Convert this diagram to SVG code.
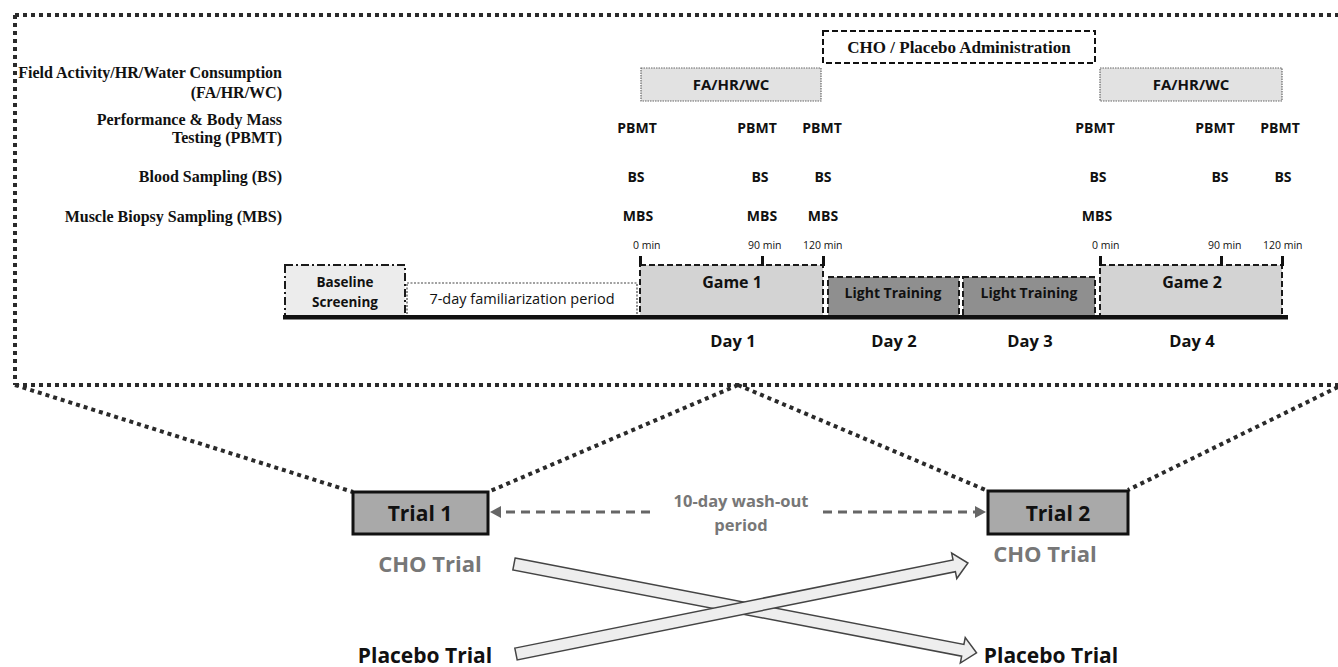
<svg xmlns="http://www.w3.org/2000/svg" width="1338" height="667" viewBox="0 0 1338 667">
<style>
.lbl{font-family:"Liberation Serif","Times New Roman",serif;font-weight:bold;font-size:16px;fill:#111;text-anchor:end}
.adm{font-family:"Liberation Serif","Times New Roman",serif;font-weight:bold;font-size:17px;fill:#111;text-anchor:middle}
.sb{font-family:"Open Sans",sans-serif;font-weight:bold;fill:#111;text-anchor:middle}
.sr{font-family:"Open Sans",sans-serif;fill:#111;text-anchor:middle}
.m{font-size:14px}
.tick{font-family:"Open Sans",sans-serif;font-size:10.5px;fill:#111}
.frame{fill:none;stroke:#2a2a2a;stroke-width:4;stroke-dasharray:4 4}
.game{fill:#d3d3d3;stroke:#1a1a1a;stroke-width:2;stroke-dasharray:6 3}
.lt{fill:#8f8f8f;stroke:#1a1a1a;stroke-width:2;stroke-dasharray:6 3}
.fa{fill:#e2e2e2;stroke:#666;stroke-width:1.2;stroke-dasharray:1.5 1}
.trial{fill:#a9a9a9;stroke:#111;stroke-width:3}
.wash{stroke:#666;stroke-width:3;stroke-dasharray:9 6;fill:none}
.blk{fill:#eeeeee;stroke:#444;stroke-width:1.5}
.gray{fill:#777}
</style>

<g id="frame">
<path class="frame" d="M15,15 H1338 M15,15 V385 M15,385 H1338"/>
<path class="frame" d="M15,385 L353,492 M738,385 L488,492 M738,385 L988,491 M1338,387 L1128,490"/>
</g>

<g id="row-labels">
<text class="lbl" x="282" y="78">Field Activity/HR/Water Consumption</text>
<text class="lbl" x="282" y="98">(FA/HR/WC)</text>
<text class="lbl" x="282" y="125">Performance &amp; Body Mass</text>
<text class="lbl" x="282" y="143">Testing (PBMT)</text>
<text class="lbl" x="282" y="182">Blood Sampling (BS)</text>
<text class="lbl" x="282" y="222">Muscle Biopsy Sampling (MBS)</text>
</g>

<g id="cho-admin">
<rect x="823" y="31" width="272" height="32" fill="#fff" stroke="#111" stroke-width="2" stroke-dasharray="6 3"/>
<text class="adm" x="959" y="53">CHO / Placebo Administration</text>
</g>

<g id="fa1">
<rect class="fa" x="641" y="68" width="180" height="33"/>
<text class="sb" x="731" y="90" font-size="15">FA/HR/WC</text>
</g>
<g id="fa2">
<rect class="fa" x="1100" y="68" width="182" height="33"/>
<text class="sb" x="1191" y="90" font-size="15">FA/HR/WC</text>
</g>

<g id="pbmt">
<text class="sb m" x="637" y="133">PBMT</text>
<text class="sb m" x="757" y="133">PBMT</text>
<text class="sb m" x="822" y="133">PBMT</text>
<text class="sb m" x="1095" y="133">PBMT</text>
<text class="sb m" x="1215" y="133">PBMT</text>
<text class="sb m" x="1280" y="133">PBMT</text>
</g>
<g id="bs">
<text class="sb m" x="636" y="182">BS</text>
<text class="sb m" x="760" y="182">BS</text>
<text class="sb m" x="823" y="182">BS</text>
<text class="sb m" x="1098" y="182">BS</text>
<text class="sb m" x="1220" y="182">BS</text>
<text class="sb m" x="1283" y="182">BS</text>
</g>
<g id="mbs">
<text class="sb m" x="638" y="221">MBS</text>
<text class="sb m" x="762" y="221">MBS</text>
<text class="sb m" x="823" y="221">MBS</text>
<text class="sb m" x="1097" y="221">MBS</text>
</g>

<g id="baseline-screening">
<rect x="285" y="265" width="120" height="52" fill="#ececec" stroke="#1a1a1a" stroke-width="2" stroke-dasharray="8 3 2 3"/>
<text class="sb" x="345" y="287" font-size="13.5">Baseline</text>
<text class="sb" x="345" y="307" font-size="13.5">Screening</text>
</g>

<g id="familiarization">
<rect x="407" y="283" width="230" height="34" fill="#fff" stroke="#444" stroke-width="1.2" stroke-dasharray="2 1.5"/>
<text class="sr" x="522" y="304" font-size="14.5">7-day familiarization period</text>
</g>

<g id="game1">
<rect class="game" x="640" y="265" width="183" height="52"/>
<text class="sb" x="732" y="288" font-size="16">Game 1</text>
</g>
<g id="light1">
<rect class="lt" x="828" y="277" width="131" height="40"/>
<text class="sb" x="893" y="298" font-size="14">Light Training</text>
</g>
<g id="light2">
<rect class="lt" x="963" y="277" width="132" height="40"/>
<text class="sb" x="1029" y="298" font-size="14">Light Training</text>
</g>
<g id="game2">
<rect class="game" x="1100" y="265" width="182" height="52"/>
<text class="sb" x="1192" y="288" font-size="16">Game 2</text>
</g>

<g id="timeline">
<rect x="283" y="315" width="1005" height="4.5" fill="#111"/>
<rect x="639" y="256" width="3" height="10" fill="#111"/>
<rect x="761" y="256" width="3" height="10" fill="#111"/>
<rect x="822" y="256" width="3" height="10" fill="#111"/>
<rect x="1099" y="256" width="3" height="10" fill="#111"/>
<rect x="1220" y="256" width="3" height="10" fill="#111"/>
<rect x="1281" y="256" width="3" height="10" fill="#111"/>
<text class="tick" x="633" y="249">0 min</text>
<text class="tick" x="748" y="249">90 min</text>
<text class="tick" x="803" y="249">120 min</text>
<text class="tick" x="1092" y="249">0 min</text>
<text class="tick" x="1208" y="249">90 min</text>
<text class="tick" x="1263" y="249">120 min</text>
</g>

<g id="days">
<text class="sb" x="733" y="347" font-size="16.5">Day 1</text>
<text class="sb" x="894" y="347" font-size="16.5">Day 2</text>
<text class="sb" x="1030" y="347" font-size="16.5">Day 3</text>
<text class="sb" x="1192" y="347" font-size="16.5">Day 4</text>
</g>

<g id="trial1">
<rect class="trial" x="353" y="492" width="135" height="42"/>
<text class="sb" x="420" y="521" font-size="21">Trial 1</text>
</g>
<g id="trial2">
<rect class="trial" x="988" y="491" width="140" height="43"/>
<text class="sb" x="1058" y="521" font-size="21">Trial 2</text>
</g>

<g id="washout-label">
<text class="sb gray" x="741" y="507" font-size="16.5">10-day wash-out</text>
<text class="sb gray" x="741" y="531" font-size="16.5">period</text>
</g>

<g id="trial-labels">
<text class="sb gray" x="430" y="572" font-size="22">CHO Trial</text>
<text class="sb" x="425" y="663" font-size="21">Placebo Trial</text>
<text class="sb gray" x="1045" y="562" font-size="22">CHO Trial</text>
<text class="sb" x="1051" y="663" font-size="21">Placebo Trial</text>
</g>

<g id="connectors">
<path class="wash" d="M650,512 H500"/>
<path d="M490,512 L501,506 L501,518 Z" fill="#666"/>
<path class="wash" d="M823,512 H975"/>
<path d="M986,512 L975,506 L975,518 Z" fill="#666"/>
<polygon class="blk" transform="translate(514,564) rotate(10.88)" points="0,-6 457,-6 457,-13 471,0 457,13 457,6 0,6"/>
<polygon class="blk" transform="translate(516,654) rotate(-11.38)" points="0,-6 447,-6 447,-13 461,0 447,13 447,6 0,6"/>
</g>
</svg>
